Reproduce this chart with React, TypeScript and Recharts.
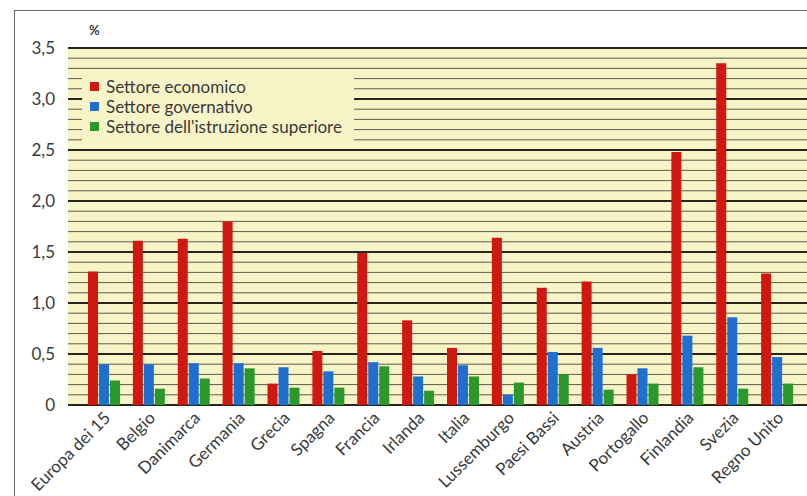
import React from "react"
import { BarChart, Bar, XAxis, YAxis, CartesianGrid, Legend, ReferenceLine } from "recharts"

const paesi = [
  "Europa dei 15", "Belgio", "Danimarca", "Germania", "Grecia", "Spagna", "Francia", "Irlanda",
  "Italia", "Lussemburgo", "Paesi Bassi", "Austria", "Portogallo", "Finlandia", "Svezia", "Regno Unito",
]
const economico = [1.31, 1.61, 1.63, 1.8, 0.21, 0.53, 1.49, 0.83, 0.56, 1.64, 1.15, 1.21, 0.3, 2.48, 3.35, 1.29]
const governativo = [0.4, 0.4, 0.41, 0.41, 0.37, 0.33, 0.42, 0.28, 0.39, 0.1, 0.52, 0.56, 0.36, 0.68, 0.86, 0.47]
const istruzione = [0.24, 0.16, 0.26, 0.36, 0.17, 0.17, 0.38, 0.14, 0.28, 0.22, 0.3, 0.15, 0.21, 0.37, 0.16, 0.21]

const yTicks = [0, 0.5, 1, 1.5, 2, 2.5, 3, 3.5]
const minorLines = Array.from({ length: 36 }, (_, i) => i / 10).filter((v) => Math.round(v * 10) % 5 !== 0)

const serie = [
  { key: "economico", name: "Settore economico", color: "#cf1810" },
  { key: "governativo", name: "Settore governativo", color: "#1f6fcf" },
  { key: "istruzione", name: "Settore dell'istruzione superiore", color: "#2c982c" },
]

const data = paesi.map((p, i) => ({
  paese: p,
  economico: economico[i],
  governativo: governativo[i],
  istruzione: istruzione[i],
}))

const FONT = "Lato, 'Open Sans', sans-serif"
const YELLOW = "#f7f4c8"

const AngledTick = ({ x, y, payload }: any) => (
  <g transform={`translate(${x + 7},${y + 6})`}>
    <text textAnchor="end" transform="rotate(-45)" fontSize={17} fontFamily={FONT} fill="#3a3a3a">
      {payload.value}
    </text>
  </g>
)

const LegendBox = () => (
  <div style={{ background: YELLOW, padding: "6px 8px", fontFamily: FONT, fontSize: 17, color: "#3a3a3a" }}>
    {serie.map((s) => (
      <div key={s.key} style={{ display: "flex", alignItems: "center", height: 20 }}>
        <span style={{ width: 9, height: 9, background: s.color, marginRight: 7, display: "inline-block" }} />
        {s.name}
      </div>
    ))}
  </div>
)

export default function App() {
  return (
    <div style={{ position: "fixed", left: 0, top: 0, width: 807, height: 496, background: "#fff", overflow: "hidden" }}>
      <div
        style={{
          position: "absolute", left: 14, top: 10, width: 800, height: 490,
          borderLeft: "1.5px solid #666", borderTop: "1.5px solid #666",
        }}
      />
      <div style={{ position: "absolute", left: 89, top: 22, fontFamily: FONT, fontSize: 13, fontWeight: 700, color: "#3a3a3a" }}>%</div>
      <div style={{ position: "absolute", left: 0, top: 0 }}>
        <BarChart width={807} height={496} data={data} margin={{ top: 48, right: 0, bottom: 0, left: 0 }} barSize={10} barGap={1}>
          <CartesianGrid fill={YELLOW} vertical={false} stroke="#26261f" strokeWidth={2} />
          <XAxis
            dataKey="paese"
            interval={0}
            height={91}
            tick={<AngledTick />}
            axisLine={false}
            tickLine={false}
            padding={{ left: 14, right: 7 }}
          />
          <YAxis
            width={68}
            domain={[0, 3.5]}
            ticks={yTicks}
            axisLine={false}
            tickLine={false}
            tickMargin={7}
            tick={{ fontSize: 17, fontFamily: FONT, fill: "#3a3a3a" }}
            tickFormatter={(v: number) => (v === 0 ? "0" : v.toFixed(1).replace(".", ","))}
          />
          {minorLines.map((v) => (
            <ReferenceLine key={v} y={v} stroke="#5e5c48" strokeWidth={1} zIndex={-50} />
          ))}
          <Legend
            layout="vertical"
            align="center"
            verticalAlign="middle"
            content={<LegendBox />}
            wrapperStyle={{ left: 82, top: 70, width: 272 }}
          />
          {serie.map((s) => (
            <Bar key={s.key} dataKey={s.key} name={s.name} fill={s.color} isAnimationActive={false} />
          ))}
        </BarChart>
      </div>
    </div>
  )
}
